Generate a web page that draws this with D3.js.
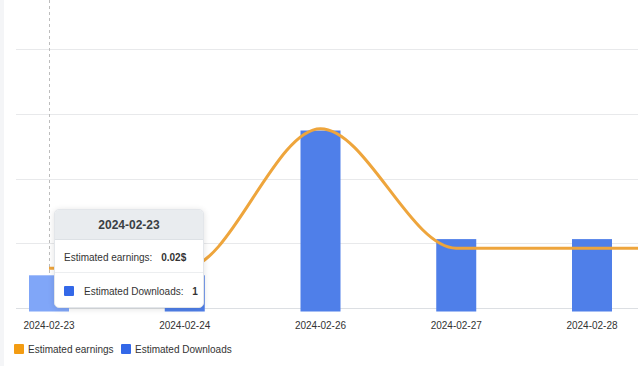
<!DOCTYPE html>
<html>
<head>
<meta charset="utf-8">
<script src="https://cdn.jsdelivr.net/npm/d3@7"></script>
<style>
  body { margin: 0; background: #fff; font-family: "Liberation Sans", Arial, sans-serif; }
  #wrap { position: relative; width: 638px; height: 366px; overflow: hidden; }
  #tooltip {
    position: absolute; left: 54px; top: 209px; width: 148px; height: 97px;
    background: #fff; border: 1px solid #e3e6ea; border-radius: 5px;
    box-shadow: 0 1px 6px rgba(0,0,0,0.12); overflow: hidden; color: #333;
  }
  #tooltip .head { height: 29px; line-height: 30px; background: #e9ecef; text-align: center;
    font-weight: bold; font-size: 12px; color: #3a3f44; border-bottom: 1px solid #dde1e5; }
  #tooltip .row { font-size: 10px; padding-left: 9px; white-space: nowrap; }
  #tooltip .row b { margin-left: 6px; }
  #tooltip .r1 { height: 32px; line-height: 36px; border-bottom: 1px solid #eceef0; }
  #tooltip .r2 { line-height: 38px; }
  #tooltip .sq { display: inline-block; width: 10px; height: 10px; background: #3368e8;
    border-radius: 1px; vertical-align: -1px; margin-right: 10px; }
</style>
</head>
<body>
<div id="wrap">
  <div id="tooltip">
    <div class="head">2024-02-23</div>
    <div class="row r1">Estimated earnings: <b>0.02$</b></div>
    <div class="row r2"><span class="sq"></span>Estimated Downloads: <b>1</b></div>
  </div>
</div>
<script>
// data (last day is past the right edge)
var days = ["2024-02-23", "2024-02-24", "2024-02-26", "2024-02-27", "2024-02-28", "2024-02-29"];
var earnings = [0.02, 0.02, 0.09, 0.03, 0.03, 0.03];
var downloads = [1, 1, 5, 2, 2, 2];
var gridTicks = [0, 0.0325, 0.065, 0.0975, 0.13];
var hoverDay = "2024-02-23";

var W = 638, H = 366;
var orange = "#f39c12", blue = "#3368e8";

var svg = d3.select("#wrap").insert("svg", "#tooltip")
            .attr("width", W).attr("height", H)
            .style("position", "absolute").style("left", 0).style("top", 0);

// light strip on the left edge
svg.append("rect").attr("x", 0).attr("y", 0).attr("width", 4).attr("height", H).attr("fill", "#f4f5f7");

var x = d3.scalePoint().domain(days).range([49, 49 + 135.75 * (days.length - 1)]);
var yE = d3.scaleLinear().domain([0, 0.13]).range([308, 49]);
var yD = d3.scaleLinear().domain([0, 1]).range([311.5, 275.3]);

// grid lines
svg.selectAll(".grid")
   .data(gridTicks)
   .enter()
   .append("line")
   .attr("x1", 16).attr("x2", W)
   .attr("y1", function(d) { return Math.round(yE(d)) + 0.5; })
   .attr("y2", function(d) { return Math.round(yE(d)) + 0.5; })
   .attr("stroke", function(d) { return d == 0 ? "#dcdfe3" : "#e8e9eb"; });

// axis pointer
svg.append("line")
   .attr("x1", x(hoverDay) + 0.5).attr("x2", x(hoverDay) + 0.5)
   .attr("y1", 0).attr("y2", yE(0))
   .attr("stroke", "#bdbdbd").attr("stroke-dasharray", "3,3");

// bars
var rows = days.map(function(d, i) { return {day: d, e: earnings[i], n: downloads[i]}; });
svg.selectAll(".bar")
   .data(rows)
   .enter()
   .append("rect")
   .attr("x", function(d) { return x(d.day) - 20; })
   .attr("width", 40)
   .attr("y", function(d) { return yD(d.n); })
   .attr("height", function(d) { return yD(0) - yD(d.n); })
   .attr("fill", function(d) { return d.day == hoverDay ? "#80a6f8" : "#4f7fe9"; });

// earnings line
var line = d3.line()
             .x(function(d) { return x(d.day); })
             .y(function(d) { return yE(d.e); })
             .curve(d3.curveMonotoneX);
svg.append("path")
   .datum(rows)
   .attr("d", line)
   .attr("fill", "none")
   .attr("stroke", "#eea53c")
   .attr("stroke-width", 3);

// x labels (the off-screen day is left out)
svg.selectAll(".xl")
   .data(days.slice(0, 5))
   .enter()
   .append("text")
   .attr("x", function(d) { return x(d); })
   .attr("y", 329)
   .attr("text-anchor", "middle")
   .style("font-size", "10px")
   .style("fill", "#333")
   .text(function(d) { return d; });

// legend
var legend = [{name: "Estimated earnings", c: orange, x: 14}, {name: "Estimated Downloads", c: blue, x: 121}];
var lg = svg.selectAll(".lg").data(legend).enter().append("g")
            .attr("transform", function(d) { return "translate(" + d.x + ",344)"; });
lg.append("rect").attr("width", 10).attr("height", 10).attr("rx", 1).attr("fill", function(d) { return d.c; });
lg.append("text").attr("x", 14).attr("y", 9)
  .style("font-size", "10px").style("fill", "#333")
  .text(function(d) { return d.name; });
</script>
</body>
</html>
